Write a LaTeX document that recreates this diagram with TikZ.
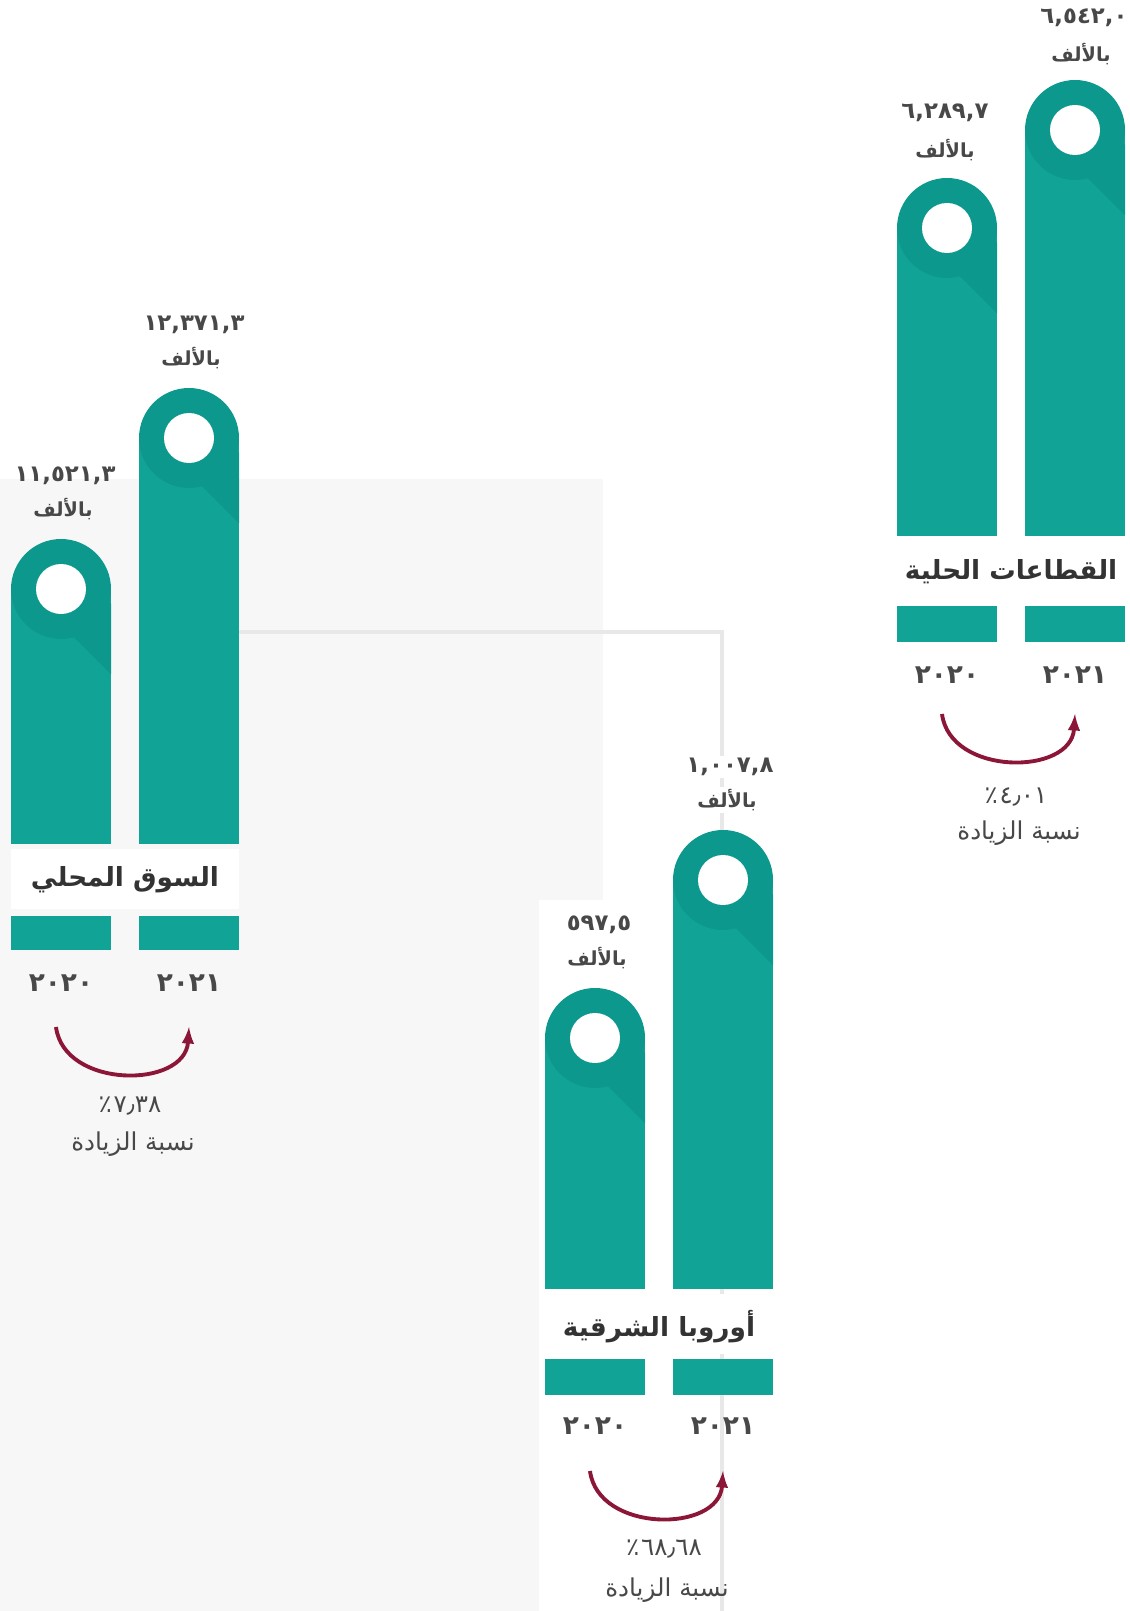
\documentclass[tikz,border=0pt]{standalone}
\usepackage{fontspec}
\usetikzlibrary{positioning}
\newfontfamily\arabicfont[Script=Arabic]{DejaVu Sans}
\TeXXeTstate=1
\definecolor{barteal}{RGB}{18,163,151}
\definecolor{capteal}{RGB}{13,152,142}
\definecolor{panelgrey}{RGB}{247,247,247}
\definecolor{guidegrey}{RGB}{232,232,232}
\definecolor{textgrey}{RGB}{72,72,72}
\definecolor{arrowred}{RGB}{140,22,56}
\begin{document}
\begin{tikzpicture}[x=0.02cm,y=-0.02cm,
  bar/.style={fill=barteal},
  capdisc/.style={fill=capteal},
  shade/.style={fill=capteal},
  hole/.style={fill=white},
  band/.style={fill=white},
  val/.style={font=\arabicfont\bfseries\fontsize{13}{15}\selectfont,text=textgrey,inner sep=1pt},
  unit/.style={font=\arabicfont\bfseries\fontsize{11}{13}\selectfont,text=textgrey,inner sep=1pt},
  ttl/.style={font=\arabicfont\bfseries\fontsize{15}{18}\selectfont,text=black!80},
  yr/.style={font=\arabicfont\bfseries\fontsize{15}{18}\selectfont,text=textgrey},
  pct/.style={font=\arabicfont\fontsize{14}{16}\selectfont,text=textgrey},
  inc/.style={font=\arabicfont\fontsize{14}{16}\selectfont,text=textgrey},
  incarrow/.style={->,>=latex,line width=2.2pt,arrowred}]
\useasboundingbox (0,0) rectangle (1129,1611);
\fill[panelgrey] (0,479) rectangle (603,1611);
\fill[white] (539,900) rectangle (603,1611);
\draw[guidegrey,line width=2.5pt] (239,632) -- (722,632) -- (722,1611);

% السوق المحلي
\fill[bar] (11,844) rectangle (111,589);
\fill[capdisc] (61,589) circle (50);
\fill[shade] (61,589) ++(17.7,-17.7) -- ++(32.3,32.3) -- ++(0,70.8) -- ++(-67.7,-67.7) -- cycle;
\fill[hole] (61,589) circle (25);
\fill[bar] (139,844) rectangle (239,438);
\fill[capdisc] (189,438) circle (50);
\fill[shade] (189,438) ++(17.7,-17.7) -- ++(32.3,32.3) -- ++(0,70.8) -- ++(-67.7,-67.7) -- cycle;
\fill[hole] (189,438) circle (25);
\fill[band] (11,849) rectangle (239,909);
\fill[bar] (11,916) rectangle (111,950);
\fill[bar] (139,916) rectangle (239,950);
\node[val] (v1a) at (65,476) {١١,٥٢١,٣};
\node[unit] (u1a) at (63,509) {بالألف};
\node[val] (v1b) at (194,325) {١٢,٣٧١,٣};
\node[unit] (u1b) at (191,358) {بالألف};
\node[ttl] (t1) at (125,880) {\beginR السوق المحلي\endR};
\node[yr] (y1a) at (61,983) {٢٠٢٠};
\node[yr] (y1b) at (189,983) {٢٠٢١};
\coordinate (s1) at (56,1027);
\coordinate (e1) at (189,1027);
\draw[incarrow] (s1) .. controls +(8,62) and +(-4,62) .. (e1);
\node[pct] (p1) at (130,1106) {٪\kern1pt٧٫٣٨};
\node[inc] (n1) at (133,1144) {\beginR نسبة الزيادة\endR};

% أوروبا الشرقية
\fill[bar] (545,1289) rectangle (645,1038);
\fill[capdisc] (595,1038) circle (50);
\fill[shade] (595,1038) ++(17.7,-17.7) -- ++(32.3,32.3) -- ++(0,70.8) -- ++(-67.7,-67.7) -- cycle;
\fill[hole] (595,1038) circle (25);
\fill[bar] (673,1289) rectangle (773,880);
\fill[capdisc] (723,880) circle (50);
\fill[shade] (723,880) ++(17.7,-17.7) -- ++(32.3,32.3) -- ++(0,70.8) -- ++(-67.7,-67.7) -- cycle;
\fill[hole] (723,880) circle (25);
\fill[band] (545,1294) rectangle (773,1354);
\fill[bar] (545,1359) rectangle (645,1395);
\fill[bar] (673,1359) rectangle (773,1395);
\node[val] (v2a) at (599,925) {٥٩٧,٥};
\node[unit] (u2a) at (597,958) {بالألف};
\node[val,fill=white] (v2b) at (730,767) {١,٠٠٧,٨};
\node[unit,fill=white] (u2b) at (727,800) {بالألف};
\node[ttl] (t2) at (659,1327) {\beginR أوروبا الشرقية\endR};
\node[yr] (y2a) at (595,1426) {٢٠٢٠};
\node[yr] (y2b) at (723,1426) {٢٠٢١};
\coordinate (s2) at (590,1471);
\coordinate (e2) at (723,1471);
\draw[incarrow] (s2) .. controls +(8,62) and +(-4,62) .. (e2);
\node[pct] (p2) at (664,1549) {٪\kern1pt٦٨٫٦٨};
\node[inc] (n2) at (667,1590) {\beginR نسبة الزيادة\endR};

% القطاعات الحلية
\fill[bar] (897,536) rectangle (997,228);
\fill[capdisc] (947,228) circle (50);
\fill[shade] (947,228) ++(17.7,-17.7) -- ++(32.3,32.3) -- ++(0,70.8) -- ++(-67.7,-67.7) -- cycle;
\fill[hole] (947,228) circle (25);
\fill[bar] (1025,536) rectangle (1125,130);
\fill[capdisc] (1075,130) circle (50);
\fill[shade] (1075,130) ++(17.7,-17.7) -- ++(32.3,32.3) -- ++(0,70.8) -- ++(-67.7,-67.7) -- cycle;
\fill[hole] (1075,130) circle (25);
\fill[band] (897,541) rectangle (1125,601);
\fill[bar] (897,606) rectangle (997,642);
\fill[bar] (1025,606) rectangle (1125,642);
\node[val] (v3a) at (945,113) {٦,٢٨٩,٧};
\node[unit] (u3a) at (945,150) {بالألف};
\node[val] (v3b) at (1084,18) {٦,٥٤٢,٠};
\node[unit] (u3b) at (1081,54) {بالألف};
\node[ttl] (t3) at (1011,572) {\beginR القطاعات الحلية\endR};
\node[yr] (y3a) at (947,675) {٢٠٢٠};
\node[yr] (y3b) at (1075,675) {٢٠٢١};
\coordinate (s3) at (942,714);
\coordinate (e3) at (1075,714);
\draw[incarrow] (s3) .. controls +(8,62) and +(-4,62) .. (e3);
\node[pct] (p3) at (1016,797) {٪\kern1pt٤٫٠١};
\node[inc] (n3) at (1019,833) {\beginR نسبة الزيادة\endR};
\end{tikzpicture}
\end{document}
